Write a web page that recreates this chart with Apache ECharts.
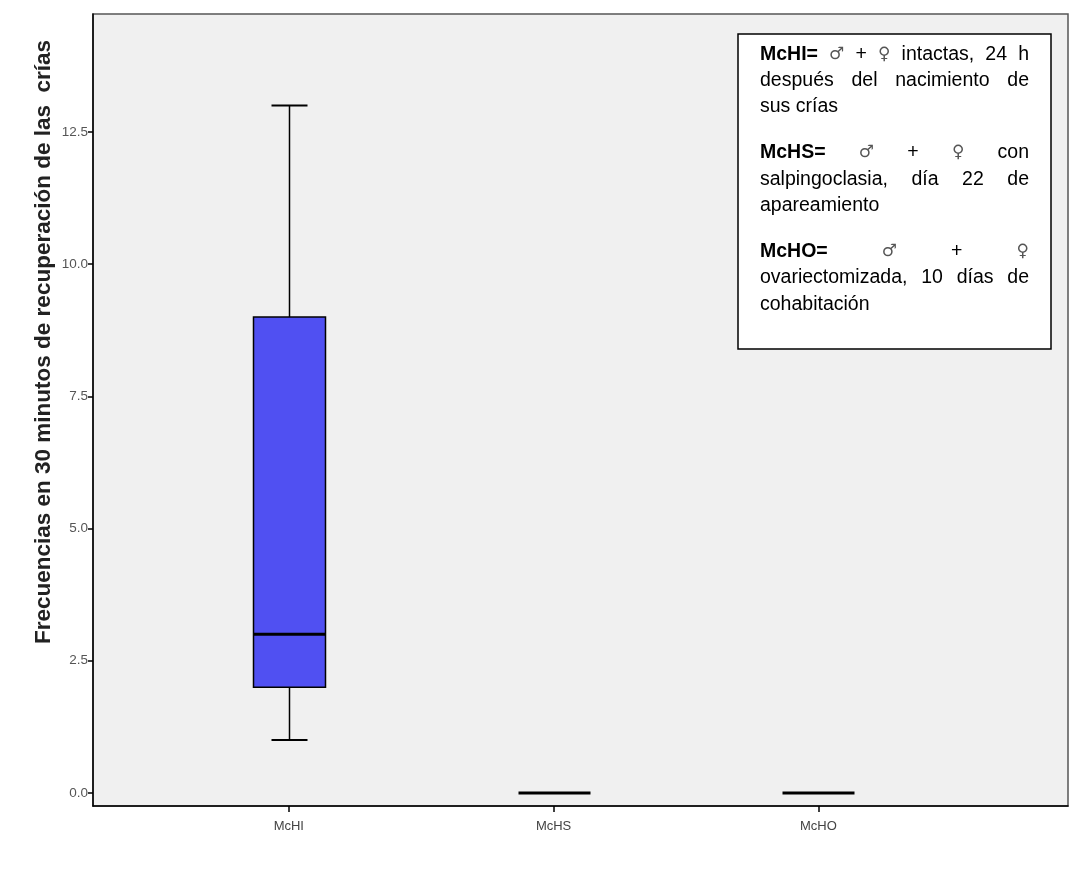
<!DOCTYPE html>
<html>
<head>
<meta charset="utf-8">
<script src="https://cdn.jsdelivr.net/npm/echarts@6/dist/echarts.min.js"></script>
<style>
  html, body { margin: 0; padding: 0; background: #ffffff; }
  #chart { width: 1071px; height: 871px; }
</style>
</head>
<body>
<div id="chart"></div>
<script>
// Groups and their five-number summaries
const categories = ['McHI', 'McHS', 'McHO'];
const positions = [1, 2, 3];
const minimum = [1, 0, 0];
const lowerQuartile = [2, 0, 0];
const median = [3, 0, 0];
const upperQuartile = [9, 0, 0];
const maximum = [13, 0, 0];

// Value-axis tick labels
const yTicks = [0, 2.5, 5, 7.5, 10, 12.5];

const yTitle = 'Frecuencias en 30 minutos de recuperación de las  crías';

// Key text: each line is a list of [word, bold] pieces; justified lines spread to full width
const keyLines = [
  { y: 55,  justify: true,  words: [['McHI=', true], ['♂'], ['+'], ['♀'], ['intactas,'], ['24'], ['h']] },
  { y: 81,  justify: true,  words: [['después'], ['del'], ['nacimiento'], ['de']] },
  { y: 107, justify: false, words: [['sus'], ['crías']] },
  { y: 153, justify: true,  words: [['McHS=', true], ['♂'], ['+'], ['♀'], ['con']] },
  { y: 180, justify: true,  words: [['salpingoclasia,'], ['día'], ['22'], ['de']] },
  { y: 206, justify: false, words: [['apareamiento']] },
  { y: 252, justify: true,  words: [['McHO=', true], ['♂'], ['+'], ['♀']] },
  { y: 278, justify: true,  words: [['ovariectomizada,'], ['10'], ['días'], ['de']] },
  { y: 305, justify: false, words: [['cohabitación']] }
];

const boxData = positions.map((p, i) => [p, minimum[i], lowerQuartile[i], median[i], upperQuartile[i], maximum[i]]);

const BOX_W = 72;
const CAP_W = 36;

function renderBox(params, api) {
  const x = api.value(0);
  const lo = api.coord([x, api.value(1)]);
  const q1 = api.coord([x, api.value(2)]);
  const md = api.coord([x, api.value(3)]);
  const q3 = api.coord([x, api.value(4)]);
  const hi = api.coord([x, api.value(5)]);
  const cx = Math.round(md[0]) + 0.5;
  const line = (x1, y1, x2, y2, w) => ({
    type: 'line',
    shape: { x1, y1, x2, y2 },
    style: { stroke: '#000', lineWidth: w }
  });
  const children = [];
  if (hi[1] < q3[1]) {
    children.push(line(cx, hi[1], cx, q3[1], 1.5));
    children.push(line(cx - CAP_W / 2, hi[1], cx + CAP_W / 2, hi[1], 2));
  }
  if (lo[1] > q1[1]) {
    children.push(line(cx, q1[1], cx, lo[1], 1.5));
    children.push(line(cx - CAP_W / 2, lo[1], cx + CAP_W / 2, lo[1], 2));
  }
  if (q1[1] - q3[1] > 0.5) {
    children.push({
      type: 'rect',
      shape: { x: cx - BOX_W / 2, y: q3[1], width: BOX_W, height: q1[1] - q3[1] },
      style: { fill: '#5050f2', stroke: '#000', lineWidth: 1.5 }
    });
  }
  children.push(line(cx - BOX_W / 2, md[1], cx + BOX_W / 2, md[1], 3));
  return { type: 'group', children };
}

// Lay out the key text with justified lines
const KEY_FONT = '"Liberation Sans", Arial, sans-serif';
const KEY_SIZE = 19.5;
const KEY_LEFT = 760;
const KEY_RIGHT = 1029;
const measureCtx = document.createElement('canvas').getContext('2d');
function wordFont(w) {
  const isSym = w[0] === '♂' || w[0] === '♀';
  return {
    weight: w[1] ? 'bold' : 'normal',
    family: isSym ? '"DejaVu Sans", sans-serif' : KEY_FONT,
    color: isSym ? '#555' : '#000',
    size: isSym ? 17 : KEY_SIZE
  };
}
function measure(w) {
  const f = wordFont(w);
  measureCtx.font = `${f.weight} ${f.size}px ${f.family}`;
  return measureCtx.measureText(w[0]).width;
}
measureCtx.font = `normal ${KEY_SIZE}px ${KEY_FONT}`;
const spaceW = measureCtx.measureText(' ').width;

const keyGraphics = [];
keyLines.forEach(ln => {
  const widths = ln.words.map(measure);
  const total = widths.reduce((a, b) => a + b, 0);
  const gap = (ln.justify && ln.words.length > 1)
    ? (KEY_RIGHT - KEY_LEFT - total) / (ln.words.length - 1)
    : spaceW;
  let x = KEY_LEFT;
  ln.words.forEach((w, i) => {
    const f = wordFont(w);
    keyGraphics.push({
      type: 'text',
      x: x,
      y: ln.y,
      z: 20,
      style: {
        text: w[0],
        fill: f.color,
        font: `${f.weight} ${f.size}px ${f.family}`,
        textAlign: 'left',
        textVerticalAlign: 'middle'
      }
    });
    x += widths[i] + gap;
  });
});

const chart = echarts.init(document.getElementById('chart'), null, { renderer: 'canvas' });

chart.setOption({
  backgroundColor: '#ffffff',
  animation: false,
  grid: {
    left: 93, top: 14, width: 975, height: 792,
    show: true,
    backgroundColor: '#f0f0f0',
    borderColor: '#555',
    borderWidth: 1.5
  },
  xAxis: {
    type: 'value',
    min: 0.2604,
    max: 3.943,
    splitLine: { show: false },
    axisLine: { show: true, onZero: false, lineStyle: { color: '#000', width: 1.5 } },
    axisTick: { show: true, customValues: positions, length: 6, lineStyle: { color: '#000', width: 1.5 } },
    axisLabel: {
      customValues: positions,
      formatter: v => categories[positions.indexOf(v)] || '',
      color: '#444',
      fontFamily: '"Liberation Sans", Arial, sans-serif',
      fontSize: 13,
      margin: 14
    }
  },
  yAxis: {
    type: 'value',
    min: -0.246,
    max: 14.73,
    splitLine: { show: false },
    axisLine: { show: true, onZero: false, lineStyle: { color: '#000', width: 1.5 } },
    axisTick: { show: true, customValues: yTicks, length: 5, lineStyle: { color: '#000', width: 1.5 } },
    axisLabel: {
      customValues: yTicks,
      formatter: v => v.toFixed(1),
      color: '#555',
      fontFamily: '"Liberation Sans", Arial, sans-serif',
      fontSize: 13.5,
      margin: 5
    }
  },
  series: [{
    type: 'custom',
    renderItem: renderBox,
    data: boxData,
    encode: { x: 0, y: [1, 2, 3, 4, 5] },
    clip: false
  }],
  graphic: [
    {
      type: 'text',
      x: 44,
      y: 342,
      rotation: Math.PI / 2,
      style: {
        text: yTitle,
        fill: '#222',
        font: 'bold 22.5px "Liberation Sans", Arial, sans-serif',
        textAlign: 'center',
        textVerticalAlign: 'middle'
      }
    },
    {
      type: 'rect',
      z: 10,
      shape: { x: 738, y: 34, width: 313, height: 315 },
      style: { fill: '#ffffff', stroke: '#000', lineWidth: 1.5 }
    }
  ].concat(keyGraphics)
});
</script>
</body>
</html>
